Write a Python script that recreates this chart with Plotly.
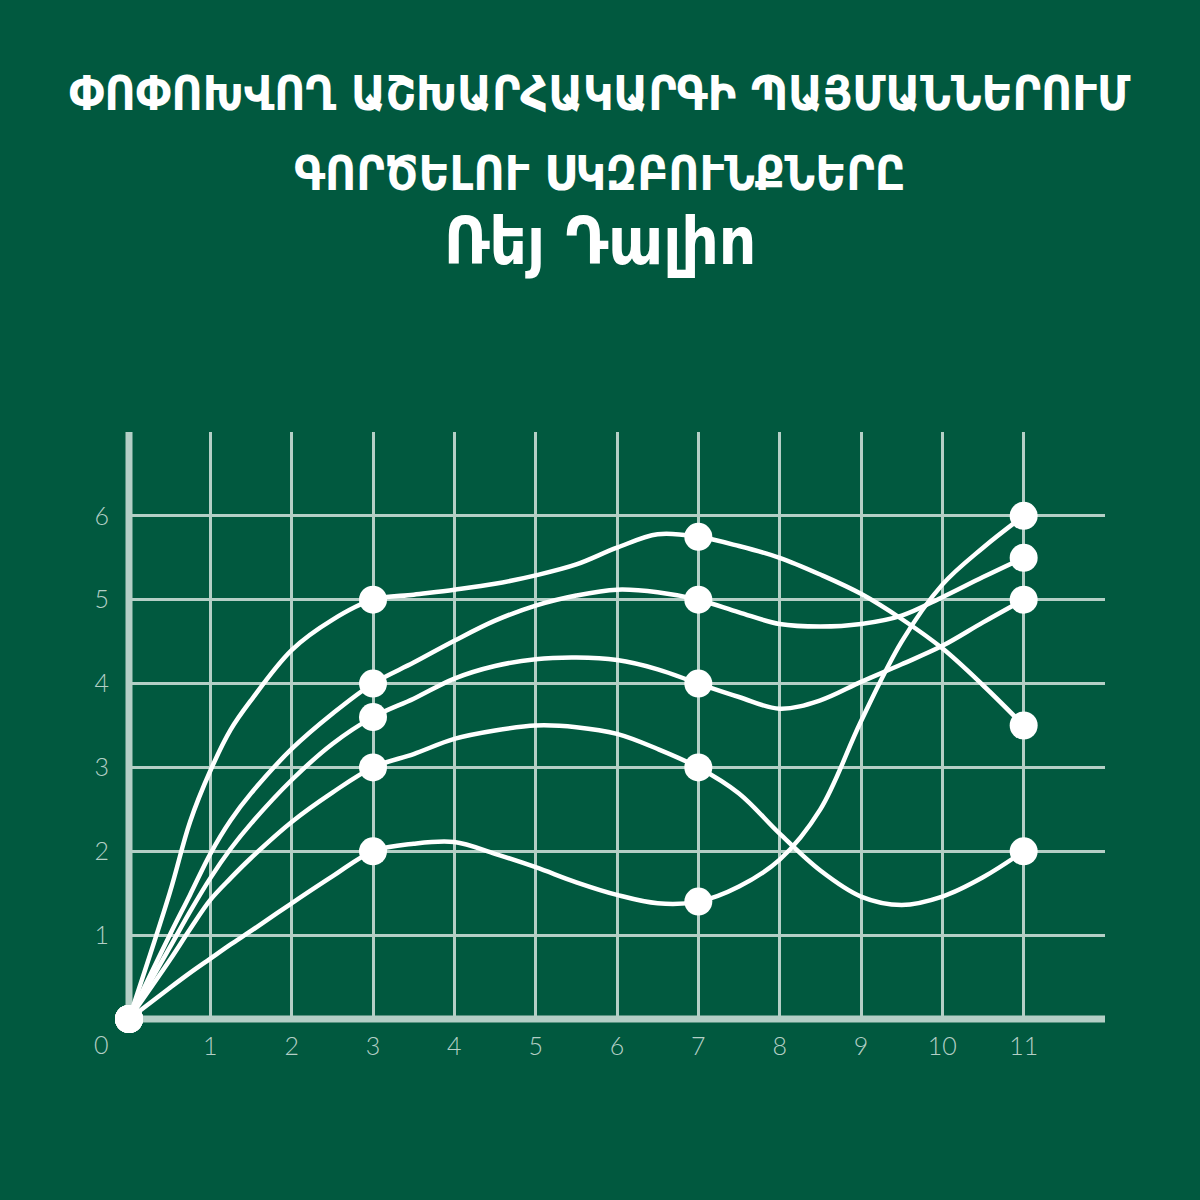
import plotly.graph_objs as go

# 1. Data

# curve samples along x (extra samples near the origin where the curves bend hard)
x_curve = [0, 0.5, 0.75, 1, 1.25, 1.5, 2, 2.5, 3, 3.5, 4, 4.5, 5, 5.5, 6, 6.5, 7,
           7.5, 8, 8.5, 9, 9.5, 10, 10.5, 11]

curve_a = [0, 1.5, 2.35, 2.96, 3.45, 3.8, 4.4, 4.76, 5.0, 5.06, 5.12, 5.19, 5.29, 5.42, 5.62, 5.78, 5.75,
           5.64, 5.5, 5.3, 5.07, 4.77, 4.42, 3.98, 3.5]
curve_b = [0, 1.0, 1.48, 1.97, 2.37, 2.69, 3.22, 3.64, 4.0, 4.25, 4.51, 4.75, 4.93, 5.05, 5.12, 5.09, 5.0,
           4.85, 4.71, 4.68, 4.71, 4.81, 5.03, 5.27, 5.5]
curve_c = [0, 0.85, 1.28, 1.68, 2.03, 2.33, 2.85, 3.28, 3.6, 3.82, 4.06, 4.21, 4.29, 4.31, 4.28, 4.17, 4.0,
           3.84, 3.7, 3.8, 4.02, 4.23, 4.45, 4.73, 5.0]
curve_d = [0, 0.7, 1.07, 1.42, 1.68, 1.92, 2.35, 2.7, 3.0, 3.16, 3.34, 3.44, 3.5, 3.48, 3.4, 3.22, 3.0,
           2.69, 2.21, 1.77, 1.46, 1.36, 1.46, 1.69, 2.0]
curve_e = [0, 0.37, 0.55, 0.72, 0.89, 1.05, 1.38, 1.7, 2.0, 2.09, 2.11, 1.97, 1.81, 1.63, 1.48, 1.38, 1.4,
           1.58, 1.9, 2.5, 3.55, 4.5, 5.18, 5.62, 6.0]

# the dots
x_dots = [0, 3, 7, 11]
dots_a = [0, 5.0, 5.75, 3.5]
dots_b = [0, 4.0, 5.0, 5.5]
dots_c = [0, 3.6, 4.0, 5.0]
dots_d = [0, 3.0, 3.0, 2.0]
dots_e = [0, 2.0, 1.4, 6.0]

x_ticks = list(range(1, 12))
y_ticks = list(range(1, 7))
x_max, y_max = 12, 7

title_lines = ['ՓՈՓՈԽՎՈՂ ԱՇԽԱՐՀԱԿԱՐԳԻ ՊԱՅՄԱՆՆԵՐՈՒՄ',
               'ԳՈՐԾԵԼՈՒ ՍԿԶԲՈՒՆՔՆԵՐԸ',
               'Ռեյ Դալիո']


# 2. Style

bg = '#01593F'
pale = '#B4CFC6'
title_font = 'DejaVu Sans Condensed'
tick_font = dict(family='Lato', size=25, color=pale, weight=300)

W = H = 1200
m_l, m_r, m_t, m_b = 129, 95, 432, 181
plot_w = W - m_l - m_r
plot_h = H - m_t - m_b


# 3. Traces

data = []
for ys in [curve_a, curve_b, curve_c, curve_d, curve_e]:
    data.append(go.Scatter(x=x_curve, y=ys, mode='lines',
                           line=dict(color='white', width=4.5, shape='spline', smoothing=1),
                           hoverinfo='skip', showlegend=False))
for ys in [dots_a, dots_b, dots_c, dots_d, dots_e]:
    data.append(go.Scatter(x=x_dots, y=ys, mode='markers',
                           marker=dict(color='white', size=28),
                           cliponaxis=False, showlegend=False))


# 4. Layout

def title_ann(text, row, size):
    # centre of the line given in page pixels, turned into paper fractions
    return dict(text='<b>' + text + '</b>',
                x=(600 - m_l) / plot_w, y=(H - m_b - row) / plot_h,
                xref='paper', yref='paper', xanchor='center', yanchor='middle',
                showarrow=False, font=dict(family=title_font, size=size, color='white'))

# thick axis lines on the left and bottom edges (domain refs so they are not clipped)
axis_lines = [
    dict(type='line', xref='x domain', yref='y domain', x0=0, x1=0, y0=-0.006, y1=1,
         line=dict(color=pale, width=7), layer='below'),
    dict(type='line', xref='x domain', yref='y domain', x0=-0.0036, x1=1, y0=0, y1=0,
         line=dict(color=pale, width=7), layer='below'),
]

layout = go.Layout(
    width=W, height=H,
    paper_bgcolor=bg, plot_bgcolor=bg,
    margin=dict(l=m_l, r=m_r, t=m_t, b=m_b),
    xaxis=dict(range=[0, x_max], tickvals=x_ticks, showgrid=True, gridcolor=pale, gridwidth=2.5,
               zeroline=False, showline=False, ticks='', tickfont=tick_font,
               ticklabelstandoff=10),
    yaxis=dict(range=[0, y_max], tickvals=y_ticks, showgrid=True, gridcolor=pale, gridwidth=2.5,
               zeroline=False, showline=False, ticks='', tickfont=tick_font,
               ticklabelstandoff=19),
    shapes=axis_lines,
    annotations=[
        dict(text='0', x=0, y=0, xref='x', yref='y', showarrow=False,
             xshift=-28, yshift=-25, font=tick_font),
        title_ann(title_lines[0], 93, 47.5),
        title_ann(title_lines[1], 173, 47.5),
        title_ann(title_lines[2], 242, 65),
    ],
)

fig = go.Figure(data=data, layout=layout)
fig.write_html('out.html', config={'displayModeBar': False},
               post_script="document.body.style.margin='0';")
